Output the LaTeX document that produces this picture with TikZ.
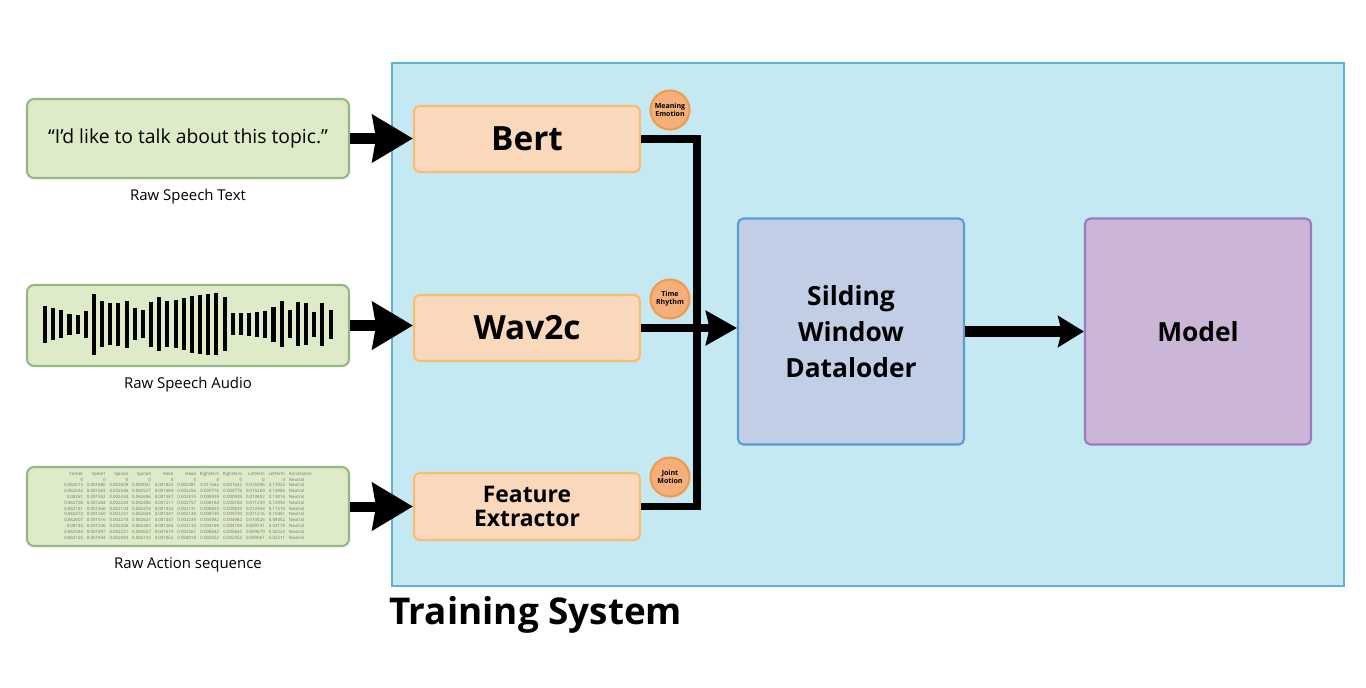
\documentclass[tikz,border=0pt]{standalone}
\usepackage{fontspec}
\setmainfont{Open Sans}
\usetikzlibrary{arrows.meta}
\definecolor{sysfill}{HTML}{C5E9F3}
\definecolor{sysborder}{HTML}{5DB4D6}
\definecolor{infill}{HTML}{DEEBC9}
\definecolor{inborder}{HTML}{93B884}
\definecolor{encfill}{HTML}{F9D8BC}
\definecolor{encborder}{HTML}{F5BE73}
\definecolor{tagfill}{HTML}{F4AF7A}
\definecolor{tagborder}{HTML}{EF9A4E}
\definecolor{winfill}{HTML}{C2CEE6}
\definecolor{winborder}{HTML}{5B9BD5}
\definecolor{modfill}{HTML}{CBB6D8}
\definecolor{modborder}{HTML}{9B7BC0}

\begin{document}
\begin{tikzpicture}[x=0.02cm,y=-0.02cm,
    inbox/.style={draw=inborder,fill=infill,line width=1.2pt,rounded corners=4pt,minimum width=6.44cm,minimum height=1.58cm},
    encbox/.style={draw=encborder,fill=encfill,line width=1.2pt,rounded corners=3pt,minimum width=4.52cm,minimum height=1.32cm,align=center,font=\bfseries\fontsize{19}{23}\selectfont},
    tag/.style={circle,draw=tagborder,fill=tagfill,line width=1.2pt,minimum size=0.78cm,inner sep=0pt,align=center,font=\bfseries\fontsize{4}{4.6}\selectfont},
    bigbox/.style={line width=1.2pt,rounded corners=3pt,minimum width=4.52cm,minimum height=4.52cm,align=center},
    caption/.style={font=\fontsize{8.5}{10}\selectfont},
    bigarrow/.style={line width=5.7pt,-{Stealth[length=23pt,width=26.6pt,inset=2pt]}}]
    \useasboundingbox (0,0) rectangle (1366,687);

    \node[draw=sysborder,fill=sysfill,line width=1.2pt,minimum width=19.04cm,minimum height=10.46cm] (sys) at (868,324.5) {};
    \node[anchor=west,font=\bfseries\fontsize{21}{25}\selectfont] (title) at (383,615) {Training System};

    \node[inbox,font=\fontsize{11}{13}\selectfont] (txt) at (188,138.5) {\raisebox{-1pt}{“I'd like to talk about this topic.”}};
    \node[inbox,minimum height=1.62cm] (aud) at (188,325.5) {};
    \node[inbox] (act) at (188,506.5) {};
    \node[caption] (txtlab) at (188,197) {Raw Speech Text};
    \node[caption] (audlab) at (188,385) {Raw Speech Audio};
    \node[caption] (actlab) at (188,565) {Raw Action sequence};

    \foreach \h [count=\i] in {37,32,28,21,19,27,61,46,42,43,47,32,28,45,54,46,48,52,57,59,61,62,54,22,22,23,25,27,35,46,28,44,42,25,43,29}
        \draw[line width=2.3pt] (36.84+8.16*\i,324-\h/2) -- (36.84+8.16*\i,324+\h/2);

    \node[text=black!55,inner sep=0pt,font=\fontsize{2.5}{3.3}\selectfont] (tbl) at (188,506) {%
        \setlength{\tabcolsep}{1.1pt}\begin{tabular}{@{}rrrrrrrrrrl@{}}
        Center & Spine1 & Spine2 & Spine3 & Neck & Head & RightArm & RightArm & LeftArm & LeftArm & Annotation\\
        0 & 0 & 0 & 0 & 0 & 0 & 0 & 0 & 0 & 0 & Neutral\\
        0.082613 & 0.001680 & 0.002609 & 0.083051 & 0.001822 & 0.002481 & 0.011642 & 0.001642 & 0.016596 & 0.17022 & Neutral\\
        0.082632 & 0.001683 & 0.002546 & 0.082527 & 0.001689 & 0.002256 & 0.009776 & 0.000776 & 0.015269 & 0.14986 & Neutral\\
        0.08261 & 0.001552 & 0.002434 & 0.082696 & 0.001387 & 0.002815 & 0.008939 & 0.000939 & 0.013852 & 0.13016 & Neutral\\
        0.082756 & 0.001284 & 0.002243 & 0.082456 & 0.001211 & 0.002757 & 0.008184 & 0.000184 & 0.011259 & 0.12950 & Neutral\\
        0.082181 & 0.001266 & 0.002104 & 0.082474 & 0.001432 & 0.002131 & 0.008833 & 0.000833 & 0.012944 & 0.11510 & Neutral\\
        0.082472 & 0.001260 & 0.002231 & 0.082604 & 0.001441 & 0.002148 & 0.008730 & 0.000730 & 0.011216 & 0.10461 & Neutral\\
        0.082607 & 0.001516 & 0.002274 & 0.082621 & 0.001047 & 0.002239 & 0.004982 & 0.004982 & 0.010526 & 0.08452 & Neutral\\
        0.08145 & 0.001236 & 0.002206 & 0.082403 & 0.001284 & 0.002134 & 0.004189 & 0.004189 & 0.009731 & 0.03179 & Neutral\\
        0.082584 & 0.001497 & 0.002251 & 0.082627 & 0.001619 & 0.002567 & 0.008642 & 0.000642 & 0.009679 & 0.02223 & Neutral\\
        0.082165 & 0.001694 & 0.002943 & 0.082134 & 0.001062 & 0.004018 & 0.002052 & 0.002052 & 0.009061 & 0.02511 & Neutral
        \end{tabular}};

    \node[encbox] (bert) at (527,139) {\raisebox{-1pt}{Bert}};
    \node[encbox] (wav) at (527,328) {\raisebox{-1pt}{Wav2c}};
    \node[encbox,minimum height=1.34cm,font=\bfseries\fontsize{13}{14}\selectfont] (feat) at (527,506.5) {Feature\\Extractor};
    \node[tag] (tagA) at (670,110) {Meaning\\Emotion};
    \node[tag] (tagB) at (670,299) {Time\\Rhythm};
    \node[tag] (tagC) at (670,477) {Joint\\Motion};

    \node[bigbox,draw=winborder,fill=winfill,font=\bfseries\fontsize{15}{20.5}\selectfont] (win) at (851,331.5) {Silding\\Window\\Dataloder};
    \node[bigbox,draw=modborder,fill=modfill,font=\bfseries\fontsize{15}{20}\selectfont] (model) at (1198,331.5) {Model};

    \draw[bigarrow] (txt.east) -- (txt.east -| bert.west);
    \draw[bigarrow] (aud.east) -- (aud.east -| wav.west);
    \draw[bigarrow] (act.east) -- (act.east -| feat.west);

    \coordinate (jn) at (697,328);
    \draw[line width=4.5pt] (bert.east) -| (jn) |- (feat.east);
    \draw[line width=4.5pt,-{Stealth[length=17.6pt,width=19.3pt,inset=2pt]}] (wav.east) -- (wav.east -| win.west);
    \draw[line width=6.8pt,-{Stealth[length=14.7pt,width=17.6pt,inset=2pt]}] (win.east |- model.west) -- (model.west);
\end{tikzpicture}
\end{document}
